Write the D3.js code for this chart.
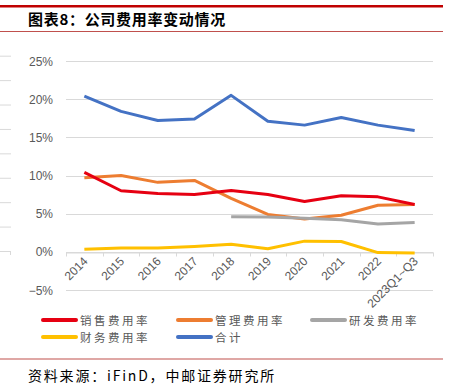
<!DOCTYPE html>
<html lang="zh">
<head>
<meta charset="UTF-8">
<title>公司费用率变动情况</title>
<script src="https://cdn.jsdelivr.net/npm/d3@7"></script>
<style>
    body { margin: 0; background: #fff; }
    text { font-family: "Liberation Sans", "Noto Sans CJK SC", sans-serif; }
    .cjk { font-family: "Noto Sans CJK SC", sans-serif; }
</style>
</head>
<body>
<script>
    // data
    const years = ["2014", "2015", "2016", "2017", "2018", "2019", "2020", "2021", "2022", "2023Q1~Q3"];
    const seriesNames = ["销售费用率", "管理费用率", "研发费用率", "财务费用率", "合计"];
    const seriesColors = ["#E60012", "#ED7D31", "#A5A5A5", "#FFC000", "#4472C4"];
    const sales = [10.4, 8.0, 7.65, 7.5, 8.05, 7.5, 6.6, 7.35, 7.2, 6.2];
    const admin = [9.7, 10.0, 9.1, 9.35, 7.0, 4.9, 4.3, 4.8, 6.1, 6.2];
    const rnd = [null, null, null, null, 4.6, 4.55, 4.4, 4.2, 3.65, 3.85];
    const finance = [0.35, 0.5, 0.5, 0.7, 1.0, 0.4, 1.4, 1.35, -0.1, -0.15];
    const total = [20.4, 18.4, 17.2, 17.4, 20.5, 17.1, 16.6, 17.6, 16.6, 15.9];
    const yTicks = [-5, 0, 5, 10, 15, 20, 25];

    const seriesValues = [sales, admin, rnd, finance, total];
    // drawing order: total on top like the original
    const drawOrder = [4, 1, 2, 0, 3];

    const width = 452, height = 392;
    const marginLeft = 66, marginRight = 19;

    const svg = d3.select("body").append("svg")
        .attr("width", width)
        .attr("height", height);

    // header / footer rules
    svg.append("rect").attr("x", 0).attr("y", 5).attr("width", 443).attr("height", 2.5).attr("fill", "#C00000");
    svg.append("rect").attr("x", 0).attr("y", 31).attr("width", 443).attr("height", 1).attr("fill", "#C0504D");
    svg.append("rect").attr("x", 0).attr("y", 358.5).attr("width", 443).attr("height", 1).attr("fill", "#C0504D");

    svg.append("text").attr("class", "cjk")
        .attr("x", 28).attr("y", 25)
        .attr("font-size", 15).attr("font-weight", "bold").attr("fill", "#000")
        .attr("letter-spacing", 0.7)
        .text("图表8：公司费用率变动情况");

    svg.append("text").attr("class", "cjk")
        .attr("x", 28).attr("y", 381)
        .attr("font-size", 14).attr("fill", "#000")
        .attr("letter-spacing", 1.8)
        .text("资料来源：iFinD，中邮证券研究所");

    // faint leftovers of a neighbouring chart on the left edge
    const edge = d3.scaleLinear().domain([0, 8]).range([251, 55.7]);
    svg.append("g").selectAll("line").data(d3.range(9)).join("line")
        .attr("x1", 0).attr("x2", 11)
        .attr("y1", d => edge(d) + 0.5).attr("y2", d => edge(d) + 0.5)
        .attr("stroke", "#D9D9D9");
    svg.append("line").attr("x1", 10.5).attr("x2", 10.5).attr("y1", 251).attr("y2", 255).attr("stroke", "#D9D9D9");

    const x = d3.scaleBand().domain(years).range([marginLeft, width - marginRight]);
    const y = d3.scaleLinear().domain([-5, 25]).range([290, 61]);

    // gridlines
    svg.append("g").selectAll("line").data(yTicks).join("line")
        .attr("x1", marginLeft).attr("x2", width - marginRight)
        .attr("y1", d => Math.round(y(d)) + 0.5).attr("y2", d => Math.round(y(d)) + 0.5)
        .attr("stroke", "#D9D9D9").attr("stroke-width", 1);

    // y labels
    svg.append("g").selectAll("text").data(yTicks).join("text")
        .attr("x", 53).attr("y", d => y(d) + 4.5)
        .attr("text-anchor", "end")
        .attr("font-size", 12).attr("fill", "#595959")
        .text(d => (d < 0 ? "−" + Math.abs(d) : d) + "%");

    // x axis at 0%
    const xAxis = svg.append("g")
        .attr("transform", `translate(0,${Math.round(y(0)) + 0.5})`)
        .call(d3.axisBottom(x).tickSize(0).tickFormat(""));
    xAxis.select(".domain").attr("stroke", "#D9D9D9");
    const bounds = [...years.map(d => x(d)), x.range()[1]];
    xAxis.append("g").selectAll("line").data(bounds).join("line")
        .attr("x1", d => Math.round(d) + 0.5).attr("x2", d => Math.round(d) + 0.5)
        .attr("y1", 0).attr("y2", 4)
        .attr("stroke", "#D9D9D9");

    svg.append("g").selectAll("text").data(years).join("text")
        .attr("transform", d => `translate(${x(d) + x.bandwidth() / 2 + 4},${Math.round(y(0)) + 10}) rotate(-45)`)
        .attr("text-anchor", "end")
        .attr("font-size", 12).attr("fill", "#595959")
        .text(d => d);

    const line = d3.line()
        .defined(d => d != null)
        .x((d, i) => x(years[i]) + x.bandwidth() / 2)
        .y(d => y(d));

    svg.append("g").selectAll("path").data(drawOrder).join("path")
        .attr("d", k => line(seriesValues[k]))
        .attr("fill", "none")
        .attr("stroke", k => seriesColors[k])
        .attr("stroke-width", 3)
        .attr("stroke-linejoin", "round");

    // legend
    const legendPos = [[43, 320], [178, 320], [312, 320], [43, 337], [178, 337]];
    const legend = svg.append("g").selectAll("g").data(seriesNames).join("g")
        .attr("transform", (d, i) => `translate(${legendPos[i][0]},${legendPos[i][1]})`);
    legend.append("line")
        .attr("x1", 0).attr("x2", 33).attr("y1", 0).attr("y2", 0)
        .attr("stroke", (d, i) => seriesColors[i])
        .attr("stroke-width", 4).attr("stroke-linecap", "round");
    legend.append("text").attr("class", "cjk")
        .attr("x", 37).attr("y", 4.5)
        .attr("font-size", 11.5).attr("fill", "#595959")
        .attr("letter-spacing", 2.5)
        .text(d => d);
</script>
</body>
</html>
